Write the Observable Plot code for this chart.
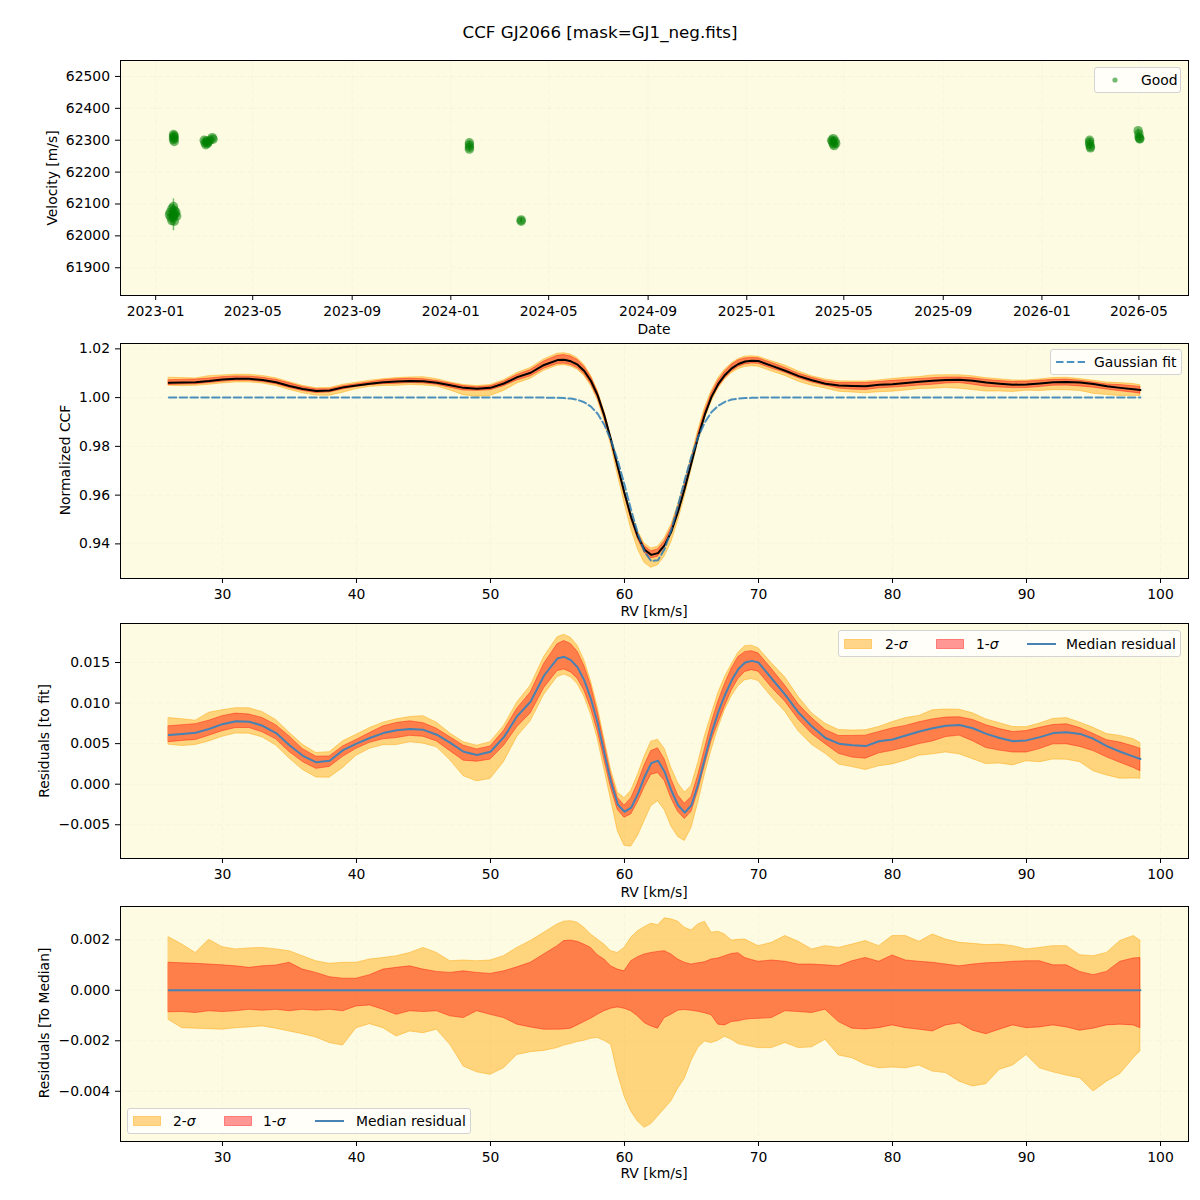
<!DOCTYPE html>
<html>
<head>
<meta charset="utf-8">
<script src="https://cdn.jsdelivr.net/npm/d3@7"></script>
<script src="https://cdn.jsdelivr.net/npm/@observablehq/plot@0.6"></script>
<style>
  body { margin: 0; background: #ffffff; font-family: "DejaVu Sans", sans-serif; }
  #fig { position: relative; width: 1200px; height: 1200px; overflow: hidden; }
  .panel { position: absolute; left: 0; }
  .txt { position: absolute; font-size: 13.9px; color: #000; white-space: nowrap; line-height: 1; }
  .title { position: absolute; left: 600px; top: 32px; transform: translate(-50%, -50%); font-size: 16.7px; white-space: nowrap; line-height: 1; }
  .xlab { transform: translate(-50%, -50%); }
  .ylab { transform: translate(-50%, -50%) rotate(-90deg); }
  .legend { position: absolute; background: rgba(255,255,255,0.8); border: 1px solid #d3d3d3; border-radius: 3px; box-sizing: border-box; }
  .legend svg { position: absolute; overflow: visible; }
  .legend .txt { transform: translateY(-50%); }
</style>
</head>
<body>
<div id="fig"></div>
<script>
// ---------- Radial velocity time series ----------
const obsDate = [
  "2023-01-18","2023-01-19","2023-01-20","2023-01-21","2023-01-21","2023-01-23","2023-01-23","2023-01-23",
  "2023-01-24","2023-01-24","2023-01-25","2023-01-26","2023-01-27",
  "2023-01-23","2023-01-23","2023-01-23","2023-01-24","2023-01-24","2023-01-24",
  "2023-03-02","2023-03-03","2023-03-04","2023-03-05","2023-03-06","2023-03-07","2023-03-09","2023-03-12","2023-03-13",
  "2024-01-24","2024-01-24","2024-01-24","2024-01-24",
  "2024-03-28","2024-03-28",
  "2025-04-16","2025-04-17","2025-04-18","2025-04-18","2025-04-19","2025-04-20","2025-04-21",
  "2026-03-01","2026-03-01","2026-03-01","2026-03-02","2026-03-02",
  "2026-04-30","2026-05-01","2026-05-01","2026-05-02","2026-05-02"
];
const obsVel = [
  62066, 62074, 62058, 62085, 62048, 62066, 62092, 62060,
  62046, 62080, 62068, 62075, 62062,
  62318, 62310, 62302, 62314, 62306, 62296,
  62300, 62292, 62286, 62298, 62290, 62294, 62300, 62308, 62303,
  62292, 62285, 62278, 62272,
  62050, 62046,
  62300, 62295, 62305, 62288, 62283, 62298, 62290,
  62300, 62294, 62287, 62280, 62276,
  62330, 62320, 62310, 62306, 62304
];
const obsErr = [
  6, 6, 6, 6, 6, 50, 6, 6,
  6, 6, 6, 6, 6,
  5, 5, 5, 5, 5, 5,
  5, 5, 5, 5, 5, 5, 5, 5, 5,
  5, 5, 5, 5,
  5, 5,
  5, 5, 5, 5, 5, 5, 5,
  5, 5, 5, 5, 5,
  5, 5, 5, 5, 5
];
const dateTicks = ["2023-01-01","2023-05-01","2023-09-01","2024-01-01","2024-05-01","2024-09-01",
  "2025-01-01","2025-05-01","2025-09-01","2026-01-01","2026-05-01"];
const velTicks = [61900, 62000, 62100, 62200, 62300, 62400, 62500];

// ---------- CCF profile on the RV grid [km/s] ----------
const rv = [
  26,27,28,29,30,31,32,33,34,35,36,37,38,39,40,41,42,43,44,45,46,47,48,49,50,51,52,53,54,55,
  55.5,56,56.5,57,57.5,58,58.5,59,59.5,60,60.5,61,61.5,62,62.5,63,63.5,64,64.5,65,65.5,66,66.5,67,67.5,68,68.5,69,69.5,70,
  71,72,73,74,75,76,77,78,79,80,81,82,83,84,85,86,87,88,89,90,91,92,93,94,95,96,97,98,98.5
];
const ccfMedian = [
  1.00605,1.0062,1.00635,1.0068,1.0074,1.00775,1.0077,1.0072,1.0063,1.0048,1.0035,1.0027,1.0029,1.0042,1.0050,
  1.0057,1.0063,1.00665,1.0068,1.0067,1.0061,1.0051,1.0040,1.0036,1.0040,1.0058,1.0084,1.0102,1.0134,1.0154,
  1.0155,1.0149,1.0135,1.0109,1.0068,1.0009,0.9926,0.9826,0.9716,0.9609,0.9509,0.9430,0.9376,0.9355,0.9362,
  0.9395,0.9451,0.9533,0.9628,0.9733,0.9839,0.9931,1.0004,1.0056,1.0093,1.0120,1.0138,1.0148,1.0151,1.0150,
  1.0130,1.0110,1.0088,1.0071,1.0057,1.0050,1.0048,1.0047,1.0053,1.0055,1.0060,1.0065,1.0069,1.0072,1.0073,
  1.0069,1.0062,1.0057,1.0053,1.0054,1.0058,1.0063,1.0064,1.0062,1.0056,1.0047,1.0040,1.0034,1.0031
];
const gaussFit = [
  1,1,1,1,1,1,1,1,1,1,1,1,1,1,1,1,1,1,1,1,1,1,1,1,1,1,1,1,1,0.9999,
  0.9998,0.9996,0.9991,0.9981,0.9963,0.9934,0.9888,0.9824,0.9741,0.9643,0.9538,0.9442,0.9367,0.9329,0.9333,
  0.9380,0.9459,0.9559,0.9663,0.9759,0.9839,0.9899,0.9941,0.9967,0.9983,0.9992,0.9996,0.9998,0.9999,1,
  1,1,1,1,1,1,1,1,1,1,1,1,1,1,1,1,1,1,1,1,1,1,1,1,1,1,1,1,1
];
// median residual to the Gaussian fit
const residMedian = [
  0.00605,0.00620,0.00635,0.00680,0.00740,0.00775,0.00770,0.00720,0.00630,0.00480,0.00350,0.00270,0.00290,0.00420,0.00500,
  0.00570,0.00630,0.00665,0.00680,0.00670,0.00610,0.00510,0.00400,0.00360,0.00400,0.00580,0.00840,0.01020,0.01340,0.01550,
  0.01570,0.01530,0.01440,0.01280,0.01050,0.00750,0.00380,0.00020,-0.00250,-0.00340,-0.00290,-0.00120,0.00090,0.00260,0.00290,
  0.00150,-0.00080,-0.00260,-0.00350,-0.00260,0.00000,0.00320,0.00630,0.00890,0.01100,0.01280,0.01420,0.01500,0.01520,0.01500,
  0.01300,0.01100,0.00880,0.00710,0.00570,0.00500,0.00480,0.00470,0.00530,0.00550,0.00600,0.00650,0.00690,0.00720,0.00730,
  0.00690,0.00620,0.00570,0.00530,0.00540,0.00580,0.00630,0.00640,0.00620,0.00560,0.00470,0.00400,0.00340,0.00310
];
// percentile spread around the median profile
const sig2Upper = [
  0.00210,0.00181,0.00148,0.00200,0.00171,0.00162,0.00166,0.00168,0.00162,0.00155,0.00135,0.00115,0.00105,0.00109,0.00109,
  0.00122,0.00128,0.00135,0.00148,0.00168,0.00148,0.00115,0.00118,0.00115,0.00118,0.00135,0.00168,0.00195,0.00228,0.00261,
  0.00272,0.00274,0.00268,0.00248,0.00221,0.00201,0.00181,0.00155,0.00148,0.00168,0.00208,0.00234,0.00250,0.00264,0.00258,
  0.00285,0.00281,0.00272,0.00248,0.00237,0.00261,0.00272,0.00228,0.00232,0.00221,0.00197,0.00200,0.00201,0.00188,0.00175,
  0.00188,0.00215,0.00192,0.00162,0.00175,0.00168,0.00181,0.00195,0.00175,0.00215,0.00215,0.00192,0.00221,0.00201,0.00188,
  0.00184,0.00179,0.00181,0.00175,0.00162,0.00168,0.00175,0.00175,0.00139,0.00135,0.00148,0.00195,0.00215,0.00197
];
const sig1Upper = [
  0.00109,0.00107,0.00105,0.00102,0.00099,0.00095,0.00089,0.00095,0.00098,0.00109,0.00082,0.00069,0.00052,0.00046,0.00046,
  0.00060,0.00082,0.00089,0.00095,0.00082,0.00073,0.00069,0.00075,0.00069,0.00065,0.00075,0.00091,0.00109,0.00142,0.00175,
  0.00195,0.00197,0.00192,0.00181,0.00168,0.00139,0.00122,0.00095,0.00082,0.00075,0.00115,0.00131,0.00142,0.00148,0.00152,
  0.00155,0.00142,0.00122,0.00109,0.00102,0.00107,0.00111,0.00122,0.00126,0.00135,0.00144,0.00147,0.00128,0.00120,0.00113,
  0.00118,0.00113,0.00102,0.00102,0.00099,0.00095,0.00115,0.00128,0.00113,0.00138,0.00118,0.00113,0.00109,0.00102,0.00095,
  0.00102,0.00107,0.00109,0.00113,0.00115,0.00115,0.00099,0.00099,0.00073,0.00060,0.00073,0.00113,0.00126,0.00128
];
const sig1Lower = [
  -0.00087,-0.00086,-0.00090,-0.00083,-0.00086,-0.00083,-0.00077,-0.00081,-0.00077,-0.00083,-0.00077,-0.00081,-0.00077,-0.00083,-0.00064,
  -0.00060,-0.00077,-0.00097,-0.00083,-0.00086,-0.00083,-0.00103,-0.00110,-0.00083,-0.00097,-0.00110,-0.00136,-0.00147,-0.00156,-0.00156,
  -0.00155,-0.00152,-0.00139,-0.00126,-0.00113,-0.00097,-0.00083,-0.00073,-0.00068,-0.00073,-0.00083,-0.00103,-0.00130,-0.00143,-0.00152,
  -0.00110,-0.00097,-0.00081,-0.00078,-0.00081,-0.00085,-0.00091,-0.00099,-0.00136,-0.00139,-0.00126,-0.00123,-0.00117,-0.00114,-0.00113,
  -0.00110,-0.00083,-0.00086,-0.00090,-0.00077,-0.00126,-0.00152,-0.00155,-0.00150,-0.00139,-0.00150,-0.00156,-0.00163,-0.00139,-0.00131,
  -0.00160,-0.00174,-0.00156,-0.00139,-0.00150,-0.00147,-0.00139,-0.00147,-0.00160,-0.00152,-0.00139,-0.00136,-0.00139,-0.00150
];
const sig2Lower = [
  -0.00118,-0.00150,-0.00152,-0.00154,-0.00156,-0.00150,-0.00147,-0.00143,-0.00152,-0.00163,-0.00174,-0.00187,-0.00209,-0.00219,-0.00150,
  -0.00134,-0.00150,-0.00183,-0.00163,-0.00170,-0.00156,-0.00216,-0.00302,-0.00325,-0.00335,-0.00309,-0.00256,-0.00245,-0.00240,-0.00229,
  -0.00219,-0.00213,-0.00205,-0.00200,-0.00192,-0.00189,-0.00200,-0.00216,-0.00330,-0.00420,-0.00480,-0.00520,-0.00545,-0.00530,-0.00500,
  -0.00470,-0.00440,-0.00390,-0.00350,-0.00280,-0.00229,-0.00203,-0.00209,-0.00200,-0.00184,-0.00196,-0.00213,-0.00219,-0.00224,-0.00229,
  -0.00229,-0.00209,-0.00229,-0.00226,-0.00196,-0.00258,-0.00269,-0.00295,-0.00309,-0.00306,-0.00309,-0.00298,-0.00322,-0.00328,-0.00362,
  -0.00381,-0.00372,-0.00315,-0.00298,-0.00256,-0.00309,-0.00325,-0.00338,-0.00348,-0.00401,-0.00362,-0.00332,-0.00269,-0.00242
];
const rvTicks = [30, 40, 50, 60, 70, 80, 90, 100];
const ccfTicks = [0.94, 0.96, 0.98, 1.00, 1.02];
const resTicks = [-0.005, 0, 0.005, 0.010, 0.015];
const medTicks = [-0.004, -0.002, 0, 0.002];

// ---------- shared styling ----------
const bg = "#fdfbe2";
const W = 1200, ML = 120, MR = 12, MT = 10, MB = 40, FRAME_H = 235;
const gridStyle = {stroke: "#c4c4c4", strokeWidth: 1, strokeDasharray: "5,2.5"};
const axisStyle = {tickSize: 5, tickPadding: 5.5, label: null, stroke: "black"};
const svgStyle = {fontFamily: "DejaVu Sans, sans-serif", fontSize: "13.9px", color: "black", background: "none", overflow: "visible"};
const orange = "orange", red = "red", blueLine = "#4682b4";

const fig = document.getElementById("fig");

function place(svg, top) {
  const holder = document.createElement("div");
  holder.className = "panel";
  holder.style.top = top + "px";
  holder.appendChild(svg);
  fig.appendChild(holder);
}
function addText(html, x, y, cls) {
  const d = document.createElement("div");
  d.className = "txt " + (cls || "");
  d.style.left = x + "px";
  d.style.top = y + "px";
  d.innerHTML = html;
  fig.appendChild(d);
  return d;
}
function addLegend(x, y, w, h, items) {
  const box = document.createElement("div");
  box.className = "legend";
  box.style.left = x + "px"; box.style.top = y + "px";
  box.style.width = w + "px"; box.style.height = h + "px";
  const cy = h / 2 - 1;
  for (const it of items) {
    if (it.kind === "patch") {
      box.insertAdjacentHTML("beforeend",
        `<svg style="left:${it.x}px;top:${cy - 5}px" width="28" height="10"><rect x="0.5" y="0.5" width="27" height="9" fill="${it.color}" fill-opacity="${it.opacity}" stroke="${it.color}" stroke-opacity="${it.opacity}"/></svg>`);
    } else if (it.kind === "line") {
      box.insertAdjacentHTML("beforeend",
        `<svg style="left:${it.x}px;top:${cy - 3}px" width="30" height="6"><line x1="0" x2="29" y1="3" y2="3" stroke="${it.color}" stroke-width="2" ${it.dash ? `stroke-dasharray="${it.dash}" stroke-opacity="0.8"` : ""}/></svg>`);
    } else if (it.kind === "dot") {
      box.insertAdjacentHTML("beforeend",
        `<svg style="left:${it.x - 4}px;top:${cy - 4}px" width="8" height="8"><circle cx="4" cy="4" r="2.6" fill="green" fill-opacity="0.55"/></svg>`);
    } else {
      const t = document.createElement("div");
      t.className = "txt";
      t.style.left = it.x + "px"; t.style.top = (cy + 1) + "px";
      t.innerHTML = it.text;
      box.appendChild(t);
    }
  }
  fig.appendChild(box);
}

// ---------- title ----------
const title = document.createElement("div");
title.className = "title";
title.textContent = "CCF GJ2066 [mask=GJ1_neg.fits]";
fig.appendChild(title);

// ---------- panel 1: velocity vs date ----------
const obs = obsDate.map((d, i) => ({date: new Date(d), v: obsVel[i], e: obsErr[i]}));
const dTicks = dateTicks.map(d => new Date(d));
const p1 = Plot.plot({
  width: W, height: MT + FRAME_H + MB, marginLeft: ML, marginRight: MR, marginTop: MT, marginBottom: MB,
  style: svgStyle,
  x: {type: "utc", domain: [new Date("2022-11-18T12:00Z"), new Date("2026-07-01T07:00Z")]},
  y: {domain: [61813, 62550]},
  marks: [
    Plot.frame({fill: bg}),
    Plot.gridX(dTicks, gridStyle),
    Plot.gridY(velTicks, gridStyle),
    Plot.ruleX(obs, {x: "date", y1: d => d.v - d.e, y2: d => d.v + d.e, stroke: "green", strokeOpacity: 0.5, strokeWidth: 1.5}),
    Plot.dot(obs, {x: "date", y: "v", r: 4.7, fill: "green", fillOpacity: 0.55}),
    Plot.axisX(dTicks, {...axisStyle, tickFormat: d3.utcFormat("%Y-%m")}),
    Plot.axisY(velTicks, {...axisStyle, tickFormat: d3.format("d")}),
    Plot.frame({stroke: "black"})
  ]
});
place(p1, 50);

// ---------- CCF table ----------
const rows = rv.map((v, i) => ({
  rv: v, ccf: ccfMedian[i], fit: gaussFit[i], res: residMedian[i],
  u2: sig2Upper[i], u1: sig1Upper[i], l1: sig1Lower[i], l2: sig2Lower[i]
}));
const rvDomain = [22.39, 102.09];

function bands(base) {
  return [
    Plot.areaY(rows, {x: "rv", y1: d => base(d) + d.l2, y2: d => base(d) + d.u2,
      fill: orange, fillOpacity: 0.45, stroke: orange, strokeOpacity: 0.45, strokeWidth: 1}),
    Plot.areaY(rows, {x: "rv", y1: d => base(d) + d.l1, y2: d => base(d) + d.u1,
      fill: red, fillOpacity: 0.4, stroke: red, strokeOpacity: 0.4, strokeWidth: 1})
  ];
}

// ---------- panel 2: normalized CCF ----------
const p2 = Plot.plot({
  width: W, height: MT + FRAME_H + MB, marginLeft: ML, marginRight: MR, marginTop: MT, marginBottom: MB,
  style: svgStyle,
  x: {domain: rvDomain},
  y: {domain: [0.9258, 1.0222]},
  marks: [
    Plot.frame({fill: bg}),
    Plot.gridX(rvTicks, gridStyle),
    Plot.gridY(ccfTicks, gridStyle),
    ...bands(d => d.ccf),
    Plot.line(rows, {x: "rv", y: "ccf", stroke: "black", strokeWidth: 2}),
    Plot.line(rows, {x: "rv", y: "fit", stroke: "#1f77b4", strokeOpacity: 0.8, strokeWidth: 2, strokeDasharray: "7.5,3.3"}),
    Plot.axisX(rvTicks, axisStyle),
    Plot.axisY(ccfTicks, {...axisStyle, tickFormat: d3.format(".2f")}),
    Plot.frame({stroke: "black"})
  ]
});
place(p2, 333);

// ---------- panel 3: residuals to the fit ----------
const p3 = Plot.plot({
  width: W, height: MT + FRAME_H + MB, marginLeft: ML, marginRight: MR, marginTop: MT, marginBottom: MB,
  style: svgStyle,
  x: {domain: rvDomain},
  y: {domain: [-0.00916, 0.01981]},
  marks: [
    Plot.frame({fill: bg}),
    Plot.gridX(rvTicks, gridStyle),
    Plot.gridY(resTicks, gridStyle),
    ...bands(d => d.res),
    Plot.line(rows, {x: "rv", y: "res", stroke: blueLine, strokeWidth: 2}),
    Plot.axisX(rvTicks, axisStyle),
    Plot.axisY(resTicks, {...axisStyle, tickFormat: d3.format(".3f")}),
    Plot.frame({stroke: "black"})
  ]
});
place(p3, 613);

// ---------- panel 4: residuals to the median ----------
const p4 = Plot.plot({
  width: W, height: MT + FRAME_H + MB, marginLeft: ML, marginRight: MR, marginTop: MT, marginBottom: MB,
  style: svgStyle,
  x: {domain: rvDomain},
  y: {domain: [-0.00599, 0.00332]},
  marks: [
    Plot.frame({fill: bg}),
    Plot.gridX(rvTicks, gridStyle),
    Plot.gridY(medTicks, gridStyle),
    ...bands(d => 0),
    Plot.line(rows, {x: "rv", y: d => 0, stroke: blueLine, strokeWidth: 2}),
    Plot.axisX(rvTicks, axisStyle),
    Plot.axisY(medTicks, {...axisStyle, tickFormat: d3.format(".3f")}),
    Plot.frame({stroke: "black"})
  ]
});
place(p4, 896);

// ---------- axis titles ----------
addText("Date", 654, 330, "xlab");
addText("RV [km/s]", 654, 612, "xlab");
addText("RV [km/s]", 654, 893, "xlab");
addText("RV [km/s]", 654, 1174, "xlab");
addText("Velocity [m/s]", 53, 178, "ylab");
addText("Normalized CCF", 66, 460, "ylab");
addText("Residuals [to fit]", 45, 741, "ylab");
addText("Residuals [To Median]", 45, 1023, "ylab");

// ---------- legends ----------
addLegend(1094, 67, 87, 26, [
  {kind: "dot", x: 20},
  {kind: "text", x: 46, text: "Good"}
]);
addLegend(1050, 349, 132, 26, [
  {kind: "line", x: 5, color: "#1f77b4", dash: "7.5,3.3"},
  {kind: "text", x: 43, text: "Gaussian fit"}
]);
addLegend(838, 630, 343, 27, [
  {kind: "patch", x: 5, color: orange, opacity: 0.45},
  {kind: "text", x: 46, text: "2-<i>σ</i>"},
  {kind: "patch", x: 97, color: red, opacity: 0.4},
  {kind: "text", x: 137, text: "1-<i>σ</i>"},
  {kind: "line", x: 188, color: blueLine},
  {kind: "text", x: 227, text: "Median residual"}
]);
addLegend(127, 1108, 344, 26, [
  {kind: "patch", x: 5, color: orange, opacity: 0.45},
  {kind: "text", x: 45, text: "2-<i>σ</i>"},
  {kind: "patch", x: 96, color: red, opacity: 0.4},
  {kind: "text", x: 135, text: "1-<i>σ</i>"},
  {kind: "line", x: 187, color: blueLine},
  {kind: "text", x: 228, text: "Median residual"}
]);
</script>
</body>
</html>
